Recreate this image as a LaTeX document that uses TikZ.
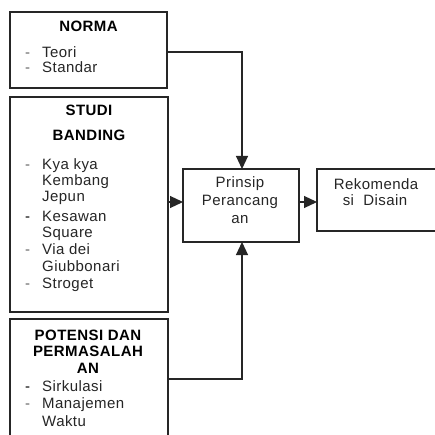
\documentclass[tikz,border=0pt]{standalone}
\usepackage{fontspec}
\setmainfont{Liberation Sans}[LetterSpace=3]
\usetikzlibrary{arrows.meta}
\tikzset{
  boxline/.style={draw=black!85, line width=1.3pt},
  conn/.style={draw=black!85, line width=1.1pt},
  arr/.style={conn, -{Triangle[length=13pt,width=12pt]}},
  txt/.style={inner sep=0pt, font=\fontsize{15}{16}\selectfont, text=black!85},
  ttl/.style={inner sep=0pt, font=\fontsize{15}{16}\selectfont\bfseries, text=black, anchor=base},
  itm/.style={txt, anchor=base west},
  dsh/.style={txt, anchor=base west, text=black!60},
  ctr/.style={txt, anchor=base}
}
\begin{document}
\begin{tikzpicture}
\begin{scope}[x=1pt,y=-1pt]
\useasboundingbox[fill=white] (0,0) rectangle (434,435);
% boxes
\draw[boxline] (10,12) rectangle (167,88);
\draw[boxline] (10,97) rectangle (168,312);
\draw[boxline] (10,445) -- (10,319) -- (168,319) -- (168,445);
\draw[boxline] (183,169) rectangle (299,242);
\draw[boxline] (445,169) -- (317,169) -- (317,231) -- (445,231);
% named anchor points
\coordinate (normaout) at (167,52);
\coordinate (normabend) at (242,52);
\coordinate (prtop) at (242,169);
\coordinate (studiout) at (168,202);
\coordinate (prleft) at (183,202);
\coordinate (prright) at (299,202);
\coordinate (rkleft) at (317,202);
\coordinate (potout) at (168,379);
\coordinate (potbend) at (242,379);
\coordinate (prbot) at (242,242);
% NORMA
\node[ttl] (tnorma) at (88.5,32) {NORMA};
\node[dsh] (d1) at (25,58) {-};
\node[itm] (i1) at (42,58) {Teori};
\node[dsh] (d2) at (25,73) {-};
\node[itm] (i2) at (42,73) {Standar};
% STUDI
\node[ttl] (tstudi) at (89,116) {STUDI};
\node[ttl] (tband) at (89,141) {BANDING};
\node[dsh] (d3) at (25,170) {-};
\node[itm] (i3) at (42,170) {Kya kya};
\node[itm] (i4) at (42,186) {Kembang};
\node[itm] (i5) at (42,202) {Jepun};
\node[dsh,text=black] (d4) at (25,221) {-};
\node[itm] (i6) at (42,221) {Kesawan};
\node[itm] (i7) at (42,237) {Square};
\node[dsh] (d5) at (25,254) {-};
\node[itm] (i8) at (42,254) {Via dei};
\node[itm] (i9) at (42,271) {Giubbonari};
\node[dsh] (d6) at (25,288) {-};
\node[itm] (i10) at (42,288) {Stroget};
% POTENSI
\node[ttl] (tpot1) at (88,340) {POTENSI DAN};
\node[ttl] (tpot2) at (88,356) {PERMASALAH};
\node[ttl] (tpot3) at (88,373) {AN};
\node[dsh,text=black] (d7) at (25,391) {-};
\node[itm] (i11) at (42,391) {Sirkulasi};
\node[dsh] (d8) at (25,408) {-};
\node[itm] (i12) at (42,408) {Manajemen};
\node[itm] (i13) at (42,426) {Waktu};
% Prinsip
\node[ctr] (p1) at (240,188) {Prinsip};
\node[ctr] (p2) at (240,206) {Perancang};
\node[ctr] (p3) at (240,223) {an};
% Rekomendasi
\node[ctr] (r1) at (376,190) {Rekomenda};
\node[ctr] (r2) at (375,206) {si\ \ Disain};
\end{scope}
% connectors
\draw[arr] (normaout) -- (normabend) -- (prtop);
\draw[arr] (studiout) -- (prleft);
\draw[arr] (prright) -- (rkleft);
\draw[arr] (potout) -- (potbend) -- (prbot);
\end{tikzpicture}
\end{document}
